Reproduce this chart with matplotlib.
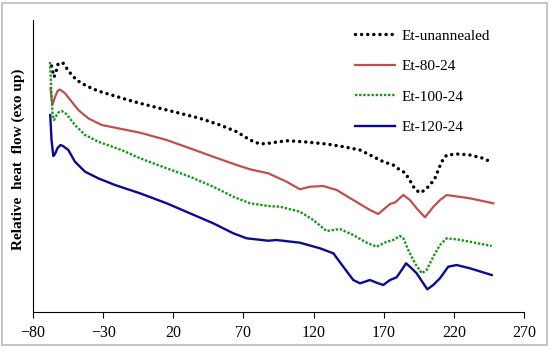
import matplotlib
matplotlib.use("Agg")
import matplotlib.pyplot as plt
from matplotlib.patches import Rectangle

plt.rcParams['font.family'] = ['Liberation Serif', 'DejaVu Serif']

# Temperature (°C) and relative heat flow (arbitrary units, exo up)
t_unann = [-66.8, -65.0, -63.6, -62.0, -58.4, -56.0, -52.4, -48.9, -45.3, -40.6,
           -33.5, -23.9, -12.1, -3.7, 10.5, 24.8, 39.0, 53.3, 65.2, 74.7,
           81.8, 87.7, 100.8, 112.7, 129.3, 141.2, 153.1, 160.2, 169.7, 176.8,
           181.6, 185.2, 189.9, 192.3, 195.9, 199.4, 203.0, 206.5, 211.3, 214.9,
           223.2, 231.5, 241.0, 247.0]
hf_unann = [246, 235, 240, 248.7, 248.7, 243.7, 237, 232, 228.7, 225.3,
            221, 217, 212, 208.7, 203.7, 198.7, 193.7, 187, 180.3, 172,
            168, 168.7, 171.3, 170.3, 168, 165.3, 162, 157, 150.3, 147,
            142, 139.3, 128.7, 122.7, 119.3, 122, 127, 133.7, 150.3, 157,
            158, 157, 153.7, 149.7]

t_80 = [-67.5, -66.2, -64.3, -62.5, -60.8, -57.2, -52.4, -47.7, -40.6, -31.0,
        -16.8, -3.7, 15.3, 31.9, 48.5, 65.2, 74.7, 87.7, 100.8, 110.3,
        117.4, 126.9, 136.5, 148.3, 160.2, 166.1, 170.9, 174.5, 178.0, 184.0,
        188.7, 193.5, 199.4, 205.3, 210.1, 214.9, 231.5, 248.1]
hf_80 = [223.7, 207, 215, 221, 222.5, 218.7, 210.3, 202, 193.7, 187,
         183, 179.3, 172, 163.7, 155.3, 147, 142.7, 138.7, 130.3, 122.7,
         125.3, 126, 122, 112, 102, 98, 103.7, 108, 109.5, 117,
         112, 103.7, 94.7, 105, 112, 117, 113.7, 108.7]

t_100 = [-67.9, -67.0, -66.0, -65.0, -63.1, -61.5, -59.5, -56.0, -50.1, -42.9,
         -33.5, -16.8, -3.7, 15.3, 31.9, 48.5, 62.8, 74.7, 87.7, 96.1,
         110.3, 119.8, 129.3, 138.8, 148.3, 157.9, 165.0, 172.1, 176.8, 181.6,
         184.0, 187.5, 192.3, 197.1, 200.6, 205.3, 210.1, 214.9, 222.0, 231.5,
         247.0]
hf_100 = [250, 222, 197, 192, 197, 200, 201, 197.7, 187, 177,
          170.3, 162, 153.7, 143.7, 135.3, 125.3, 115.3, 108.7, 106, 105.3,
          100.3, 92, 81, 83, 77, 69.3, 65.3, 70.3, 72, 76,
          73.7, 62, 48.7, 38.7, 42, 55.3, 67, 73.7, 72.7, 70.3,
          66]

t_120 = [-67.7, -66.8, -65.5, -64.3, -62.5, -60.4, -58.6, -54.8, -50.1, -42.9,
         -33.5, -21.5, -3.7, 15.3, 31.9, 48.5, 62.8, 72.3, 87.7, 93.7,
         110.3, 124.6, 134.1, 141.2, 148.3, 153.1, 160.2, 165.0, 169.7, 174.5,
         179.2, 182.8, 185.9, 188.7, 193.5, 198.2, 201.1, 205.3, 210.1, 216.0,
         222.0, 231.5, 247.0]
hf_120 = [197, 172, 156, 158, 164, 167, 166, 162, 150.3, 140.3,
          133.7, 127, 118.7, 108.7, 98.7, 88.7, 78.7, 73.7, 71.3, 72,
          69.3, 63.7, 58.7, 45.3, 32, 28.7, 32, 29.3, 27, 32,
          34.7, 42, 48.7, 45.3, 38.7, 28.7, 22.7, 27, 33.7, 45.3,
          47, 43.7, 37]

labels = ['Et-unannealed', 'Et-80-24', 'Et-100-24', 'Et-120-24']
xticks = [-80, -30, 20, 70, 120, 170, 220, 270]

fig = plt.figure(figsize=(5.5, 3.48), dpi=100)
ax = fig.add_axes([0.06, 0.1034, 0.8927, 0.8391])

ax.plot(t_unann, hf_unann, color='black', lw=2.5, linestyle=(0, (0.01, 1.75)),
        dash_capstyle='round', solid_joinstyle='round', label=labels[0])
ax.plot(t_80, hf_80, color='#C0504D', lw=1.6, solid_joinstyle='round', label=labels[1])
ax.plot(t_100, hf_100, color='#119A11', lw=1.7, linestyle=(0, (1, 0.75)), label=labels[2])
ax.plot(t_120, hf_120, color='#0A0A96', lw=1.7, solid_joinstyle='round', label=labels[3])

ax.set_xlim(-80, 270)
ax.set_ylim(0, 292)
ax.set_xticks(xticks)
ax.set_yticks([])
ax.tick_params(axis='x', direction='out', length=4, width=0.8, labelsize=11.5, pad=5)
for s in ['top', 'right']:
    ax.spines[s].set_visible(False)
for s in ['left', 'bottom']:
    ax.spines[s].set_linewidth(0.8)

ax.set_ylabel('Relative  heat  flow (exo up)', fontsize=11, fontweight='bold',
              labelpad=5.5, y=0.524)

leg = fig.legend(loc='upper left', bbox_to_anchor=(0.621, 0.956), frameon=False, fontsize=11,
                 handlelength=2.6, handletextpad=0.45, labelspacing=1.1)

fig.patches.append(Rectangle((0.004, 0.008), 0.991, 0.984, transform=fig.transFigure,
                             fill=False, edgecolor='#BBBBBB', lw=1.2))

fig.savefig('out.png', dpi=100)
